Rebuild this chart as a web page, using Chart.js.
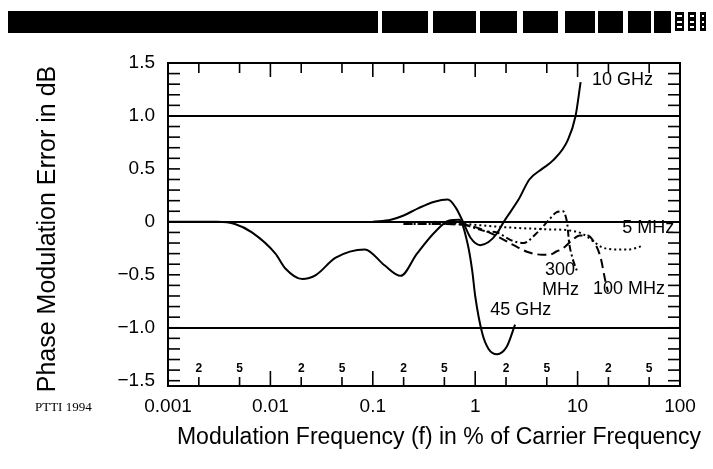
<!DOCTYPE html>
<html lang="en">
<head>
    <meta charset="UTF-8">
    <title>Phase Modulation Error</title>
    <script src="https://cdn.jsdelivr.net/npm/chart.js@4.4.0/dist/chart.umd.min.js"></script>
    <style>
        body { margin: 0; background: #fff; }
        #wrap { position: relative; width: 713px; height: 469px; }
    </style>
</head>
<body>
    <div id="wrap"><canvas id="pmChart"></canvas></div>
    <script>
        // Values: x = modulation frequency in % of carrier, y = error in dB
        const ghz45X = [0.001, 0.003, 0.0045, 0.0066, 0.0112, 0.014, 0.0205, 0.028, 0.043, 0.0836, 0.13, 0.187, 0.27, 0.4, 0.55, 0.7, 0.84, 0.935, 1.0, 1.17, 1.35, 1.63, 2.03, 2.45];
        const ghz45Y = [0, 0, -0.02, -0.1, -0.3, -0.44, -0.54, -0.5, -0.34, -0.26, -0.41, -0.51, -0.3, -0.1, 0.01, 0.02, -0.2, -0.46, -0.7, -1.05, -1.2, -1.25, -1.18, -0.97];

        const ghz10X = [0.1, 0.15, 0.2, 0.28, 0.4, 0.54, 0.65, 0.76, 0.9, 1.12, 1.35, 1.63, 1.9, 2.65, 3.38, 4.5, 5.75, 8.0, 9.55, 10.7];
        const ghz10Y = [0, 0.02, 0.06, 0.13, 0.19, 0.21, 0.13, 0, -0.15, -0.22, -0.19, -0.11, 0, 0.21, 0.4, 0.5, 0.58, 0.77, 1.0, 1.32];

        const mhz300X = [0.2, 0.5, 0.8, 1.0, 1.3, 1.63, 2.2, 2.96, 3.95, 5.27, 6.2, 7.2, 7.7, 8.0, 8.2, 8.9, 10.0];
        const mhz300Y = [-0.02, -0.02, -0.03, -0.06, -0.09, -0.1, -0.17, -0.2, -0.11, 0.02, 0.09, 0.1, 0.04, -0.05, -0.17, -0.34, -0.48];

        const mhz100X = [0.2, 0.5, 0.8, 1.0, 1.52, 2.37, 3.38, 4.5, 5.3, 6.2, 7.2, 8.9, 10.5, 12.5, 14, 16.7, 18.6, 19.8];
        const mhz100Y = [-0.02, -0.02, -0.03, -0.05, -0.12, -0.22, -0.29, -0.31, -0.31, -0.28, -0.25, -0.17, -0.13, -0.13, -0.17, -0.33, -0.55, -0.66];

        const mhz5X = [0.4, 0.8, 1.9, 4.9, 8.2, 11, 12.8, 14.5, 17.3, 23, 32, 42];
        const mhz5Y = [0, -0.02, -0.05, -0.07, -0.08, -0.11, -0.15, -0.19, -0.24, -0.26, -0.26, -0.23];

        // Axis ticks
        const xTickValues = [0.001, 0.01, 0.1, 1, 10, 100];
        const xTickLabels = ['0.001', '0.01', '0.1', '1', '10', '100'];
        const xMinorValues = [0.002, 0.005, 0.02, 0.05, 0.2, 0.5, 2, 5, 20, 50];
        const xMinorLabels = ['2', '5', '2', '5', '2', '5', '2', '5', '2', '5'];
        const yTickValues = [-1.5, -1, -0.5, 0, 0.5, 1, 1.5];
        const yTickLabels = ['\u22121.5', '\u22121.0', '\u22120.5', '0', '0.5', '1.0', '1.5'];
        const refLines = [-1, 0, 1];

        const FONT = '"Liberation Sans", Arial, sans-serif';

        function toPoints(xs, ys) {
            return xs.map((x, i) => ({ x: x, y: ys[i] }));
        }

        function curve(label, xs, ys, dash) {
            return {
                label: label,
                data: toPoints(xs, ys),
                borderColor: '#000',
                borderWidth: 2,
                borderDash: dash || [],
                pointRadius: 0,
                fill: false,
                cubicInterpolationMode: 'monotone'
            };
        }

        // Box, inward ticks, scan header and annotation text
        const framePlugin = {
            id: 'frame',
            beforeDraw(chart) {
                const ctx = chart.ctx;
                ctx.save();
                ctx.fillStyle = '#fff';
                ctx.fillRect(0, 0, chart.width, chart.height);
                ctx.restore();
            },
            afterDraw(chart) {
                const ctx = chart.ctx;
                const a = chart.chartArea;
                const x = chart.scales.x;
                const y = chart.scales.y;
                const line = (x1, y1, x2, y2) => {
                    ctx.beginPath(); ctx.moveTo(x1, y1); ctx.lineTo(x2, y2); ctx.stroke();
                };
                ctx.save();
                ctx.strokeStyle = '#000';
                ctx.fillStyle = '#000';

                // plot box
                ctx.lineWidth = 2;
                ctx.strokeRect(a.left, a.top, a.right - a.left, a.bottom - a.top);

                // y ticks every 0.1 on both sides
                ctx.lineWidth = 1.6;
                for (let i = -15; i <= 15; i++) {
                    const py = y.getPixelForValue(i / 10);
                    line(a.left, py, a.left + 12, py);
                    line(a.right - 12, py, a.right, py);
                }

                // x ticks, bottom and top
                xTickValues.forEach(v => {
                    const px = x.getPixelForValue(v);
                    line(px, a.bottom, px, a.bottom - 15);
                    line(px, a.top, px, a.top + 14);
                });
                ctx.font = 'bold 12px ' + FONT;
                ctx.textAlign = 'center';
                ctx.textBaseline = 'middle';
                xMinorValues.forEach((v, i) => {
                    const px = x.getPixelForValue(v);
                    line(px, a.bottom, px, a.bottom - 9);
                    line(px, a.top, px, a.top + 10);
                    ctx.fillText(xMinorLabels[i], px, a.bottom - 17);
                });

                // curve labels
                ctx.font = '18px ' + FONT;
                ctx.textAlign = 'left';
                const at = (vx, vy) => [x.getPixelForValue(vx), y.getPixelForValue(vy)];
                let p = at(13.8, 1.34); ctx.fillText('10 GHz', p[0], p[1]);
                p = at(27.3, -0.06); ctx.fillText('5 MHz', p[0], p[1]);
                p = at(14.1, -0.634); ctx.fillText('100 MHz', p[0], p[1]);
                p = at(1.4, -0.83); ctx.fillText('45 GHz', p[0], p[1]);
                ctx.textAlign = 'center';
                p = at(6.73, -0.455); ctx.fillText('300', p[0], p[1]);
                p = at(6.8, -0.64); ctx.fillText('MHz', p[0], p[1]);

                // axis titles
                ctx.font = '23px ' + FONT;
                ctx.textAlign = 'center';
                ctx.fillText('Modulation Frequency (f) in % of Carrier Frequency', 439, 438);
                ctx.save();
                ctx.translate(55, 229);
                ctx.rotate(-Math.PI / 2);
                ctx.font = '25px ' + FONT;
                ctx.textBaseline = 'alphabetic';
                ctx.fillText('Phase Modulation Error in dB', 0, 0);
                ctx.restore();

                ctx.font = '13px "Liberation Serif", serif';
                ctx.textAlign = 'left';
                ctx.fillText('PTTI 1994', 35, 408);

                // header strip of the scanned page
                ctx.fillRect(8, 11, 370, 22);
                [[382, 428], [433, 476], [480, 517], [523, 558], [565, 595], [598, 623], [628, 651], [654, 671]]
                    .forEach(b => ctx.fillRect(b[0], 11, b[1] - b[0], 22));
                [[675, 684], [688, 696], [700, 706]].forEach(b => {
                    ctx.fillStyle = '#000';
                    ctx.fillRect(b[0], 12, b[1] - b[0], 19);
                    ctx.fillStyle = '#fff';
                    ctx.fillRect(b[0] + 2, 15, b[1] - b[0] - 4, 2);
                    ctx.fillRect(b[0] + 2, 21, b[1] - b[0] - 4, 2);
                    ctx.fillRect(b[0] + 2, 26, b[1] - b[0] - 4, 2);
                });
                ctx.restore();
            }
        };

        new Chart(document.getElementById('pmChart').getContext('2d'), {
            type: 'line',
            data: {
                datasets: [
                    curve('45 GHz', ghz45X, ghz45Y),
                    curve('10 GHz', ghz10X, ghz10Y),
                    curve('300 MHz', mhz300X, mhz300Y, [7, 3, 2, 3]),
                    curve('100 MHz', mhz100X, mhz100Y, [9, 5]),
                    curve('5 MHz', mhz5X, mhz5Y, [2, 3])
                ]
            },
            options: {
                responsive: true,
                maintainAspectRatio: false,
                animation: false,
                layout: { padding: { left: 0, right: 33, top: 63, bottom: 0 } },
                plugins: { legend: { display: false }, tooltip: { enabled: false } },
                scales: {
                    x: {
                        type: 'logarithmic',
                        min: 0.001,
                        max: 100,
                        grid: { display: false },
                        border: { display: false },
                        afterBuildTicks: s => { s.ticks = xTickValues.map(v => ({ value: v })); },
                        afterFit: s => { s.height = 83; },
                        ticks: {
                            autoSkip: false,
                            maxRotation: 0,
                            padding: 1,
                            color: '#000',
                            font: { family: FONT, size: 19 },
                            callback: (v, i) => xTickLabels[i]
                        }
                    },
                    y: {
                        type: 'linear',
                        min: -1.55,
                        max: 1.5,
                        border: { display: false },
                        grid: {
                            drawTicks: false,
                            lineWidth: 2,
                            color: c => (c.tick && refLines.includes(c.tick.value)) ? '#000' : 'rgba(0,0,0,0)'
                        },
                        afterBuildTicks: s => { s.ticks = yTickValues.map(v => ({ value: v })); },
                        afterFit: s => { s.width = 168; },
                        ticks: {
                            autoSkip: false,
                            padding: 13,
                            color: '#000',
                            font: { family: FONT, size: 19 },
                            callback: (v, i) => yTickLabels[i]
                        }
                    }
                }
            },
            plugins: [framePlugin]
        });
    </script>
</body>
</html>
